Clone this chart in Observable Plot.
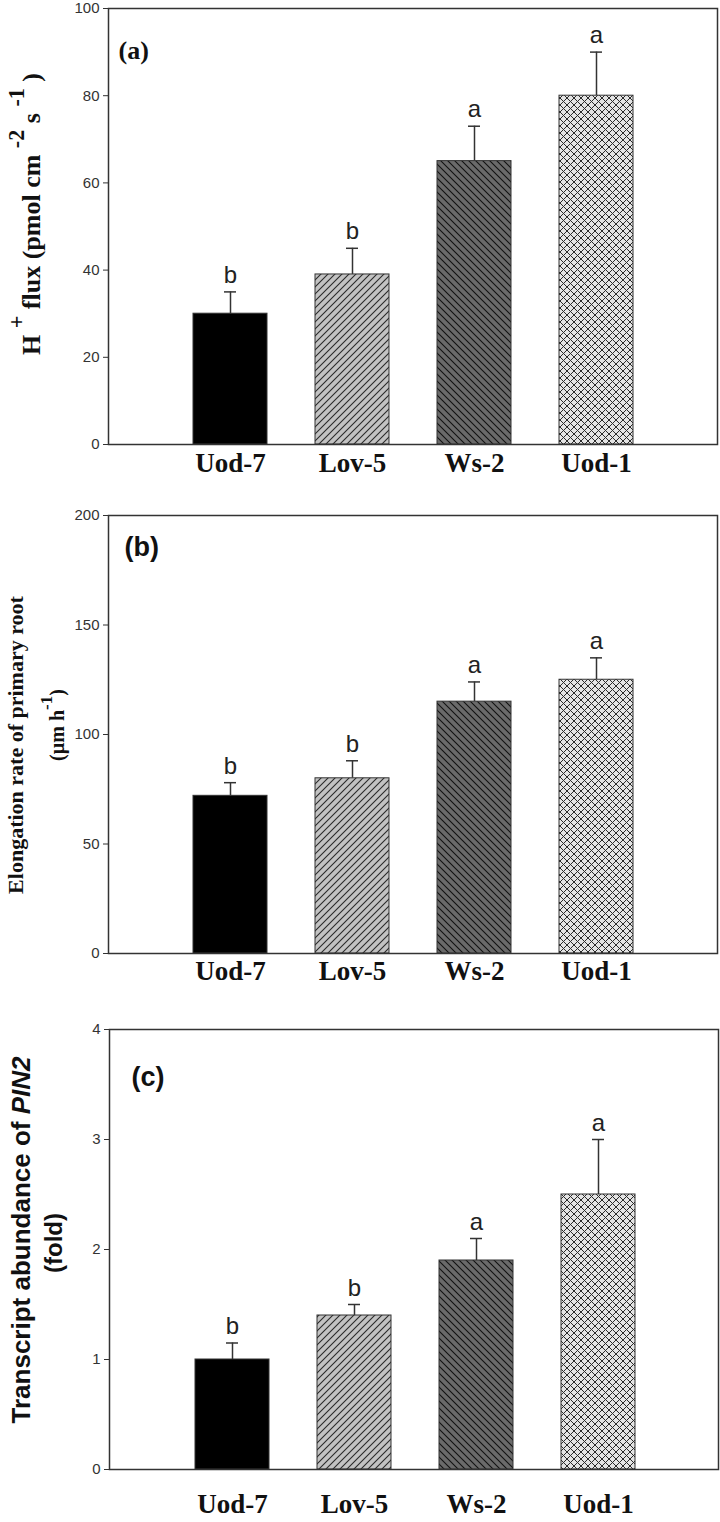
<!DOCTYPE html>
<html><head><meta charset="utf-8">
<script src="https://cdn.jsdelivr.net/npm/d3@7"></script>
<script src="https://cdn.jsdelivr.net/npm/@observablehq/plot@0.6"></script>
<style>
body{margin:0;background:#fff;}
#chart svg{display:block;}
</style>
</head><body>
<svg width="0" height="0" style="position:absolute">
<defs>
<pattern id="pat-lov" patternUnits="userSpaceOnUse" width="7" height="7">
<rect width="7" height="7" fill="#c2c2c2"/>
<path d="M-1,1 L1,-1 M0,7 L7,0 M6,8 L8,6" stroke="#2a2a2a" stroke-width="1.1"/>
</pattern>
<pattern id="pat-ws" patternUnits="userSpaceOnUse" width="7" height="7">
<rect width="7" height="7" fill="#6a6a6a"/>
<path d="M-1,6 L1,8 M0,0 L7,7 M6,-1 L8,1" stroke="#111" stroke-width="1.1"/>
</pattern>
<pattern id="pat-uod1" patternUnits="userSpaceOnUse" width="7" height="7">
<rect width="7" height="7" fill="#e4e4e4"/>
<path d="M-1,1 L1,-1 M0,7 L7,0 M6,8 L8,6 M-1,6 L1,8 M0,0 L7,7 M6,-1 L8,1" stroke="#2a2a2a" stroke-width="1"/>
</pattern>
</defs>
</svg>
<div id="chart"></div>
<script>
// ---- data ----
const categories = ["Uod-7", "Lov-5", "Ws-2", "Uod-1"];

const fluxMean = [30, 39, 65, 80];
const fluxErr = [5, 6, 8, 10];
const fluxLetters = ["b", "b", "a", "a"];
const fluxTicks = [0, 20, 40, 60, 80, 100];

const elongMean = [72, 80, 115, 125];
const elongErr = [6, 8, 9, 10];
const elongLetters = ["b", "b", "a", "a"];
const elongTicks = [0, 50, 100, 150, 200];

const pinMean = [1.0, 1.4, 1.9, 2.5];
const pinErr = [0.15, 0.1, 0.2, 0.5];
const pinLetters = ["b", "b", "a", "a"];
const pinTicks = [0, 1, 2, 3, 4];

// ---- styles ----
const fillFor = {"Uod-7": "#000", "Lov-5": "url(#pat-lov)", "Ws-2": "url(#pat-ws)", "Uod-1": "url(#pat-uod1)"};
const SERIF = "'Liberation Serif', 'Times New Roman', serif";
const SANS = "'Liberation Sans', Arial, sans-serif";

function yTitle(lines) {
  return () => {
    const g = d3.create("svg:g");
    for (const ln of lines) {
      const t = g.append("text")
        .attr("transform", `translate(${ln.x},${ln.y}) rotate(-90)`)
        .attr("text-anchor", "middle")
        .attr("font-family", ln.family)
        .attr("font-size", ln.size)
        .attr("font-weight", "bold")
        .attr("fill", "#111");
      let off = 0;
      for (const p of ln.parts) {
        const [s, kind] = typeof p === "string" ? [p, null] : p;
        const ts = t.append("tspan").text(s);
        const target = kind === "sup" ? -ln.size * 0.6 : 0;
        if (target !== off) { ts.attr("dy", target - off); off = target; }
        if (kind === "sup") ts.attr("font-size", ln.size * 0.85);
        if (kind === "italic") ts.attr("font-style", "italic");
      }
    }
    return g.node();
  };
}

function panel(o) {
  const rows = categories.map((c, i) => ({cat: c, mean: o.mean[i], top: o.mean[i] + o.err[i], letter: o.letters[i]}));
  return Plot.plot({
    width: 720, height: o.height,
    marginTop: o.mt, marginBottom: o.mb, marginLeft: o.ml, marginRight: o.mr,
    x: {type: "band", domain: categories, range: o.xRange, paddingInner: 0.395, paddingOuter: 0.2, align: 0.5},
    y: {domain: [o.ticks[0], o.ticks[o.ticks.length - 1]]},
    color: {type: "identity"},
    marks: [
      Plot.ruleX(rows, {x: "cat", y1: "mean", y2: "top", stroke: "#333", strokeWidth: 1.5}),
      Plot.barY(rows, {x: "cat", y: "mean", fill: d => fillFor[d.cat], stroke: "#333", strokeWidth: 1}),
      Plot.tickY(rows, {x: "cat", y: "top", insetLeft: 31, insetRight: 31, stroke: "#333", strokeWidth: 1.5}),
      Plot.text(rows, {x: "cat", y: "top", text: "letter", lineAnchor: "bottom", dy: -9, fontSize: 24, fontFamily: SANS, fill: "#222"}),
      Plot.frame({stroke: "#333", strokeWidth: 1.5}),
      Plot.axisY({ticks: o.ticks, tickFormat: d3.format("d"), tickSize: 5, tickPadding: 4, fontSize: 15, fontFamily: SANS, color: "#333", label: null}),
      Plot.axisX({tickSize: 0, tickPadding: o.xPad, fontSize: 27, fontFamily: SERIF, fontWeight: "bold", color: "#111", label: null}),
      Plot.text([o.tag], {frameAnchor: "top-left", dx: o.tagDx, dy: o.tagDy, fontSize: o.tagSize, fontFamily: o.tagFamily, fontWeight: "bold", fill: "#111", lineAnchor: "top", textAnchor: "start"}),
      yTitle(o.title)
    ]
  });
}

const chart = document.getElementById("chart");

chart.append(panel({
  mean: fluxMean, err: fluxErr, letters: fluxLetters, ticks: fluxTicks,
  height: 490, mt: 8, mb: 46, ml: 108, mr: 3, xRange: [168, 657], xPad: 8,
  tag: "(a)", tagDx: 10, tagDy: 32, tagSize: 26, tagFamily: SERIF,
  title: [{x: 40, y: 214, size: 26, family: SERIF,
    parts: ["H ", ["+", "sup"], " flux (pmol cm ", ["-2", "sup"], " s ", ["-1", "sup"], " )"]}]
}));

chart.append(panel({
  mean: elongMean, err: elongErr, letters: elongLetters, ticks: elongTicks,
  height: 500, mt: 25, mb: 37, ml: 108, mr: 3, xRange: [168, 657], xPad: 7,
  tag: "(b)", tagDx: 16, tagDy: 21, tagSize: 27, tagFamily: SANS,
  title: [
    {x: 23, y: 255, size: 22, family: SERIF, parts: ["Elongation rate of primary root"]},
    {x: 64, y: 235, size: 20, family: SERIF, parts: ["(\u00b5m h", ["-1", "sup"], ")"]}
  ]
}));

chart.append(panel({
  mean: pinMean, err: pinErr, letters: pinLetters, ticks: pinTicks,
  height: 532, mt: 39, mb: 53, ml: 109, mr: 2, xRange: [170, 659], xPad: 24,
  tag: "(c)", tagDx: 22, tagDy: 37, tagSize: 27, tagFamily: SANS,
  title: [
    {x: 30, y: 250, size: 26, family: SANS, parts: ["Transcript abundance of ", ["PIN2", "italic"]]},
    {x: 62, y: 253, size: 24, family: SANS, parts: ["(fold)"]}
  ]
}));
</script>
</body></html>
